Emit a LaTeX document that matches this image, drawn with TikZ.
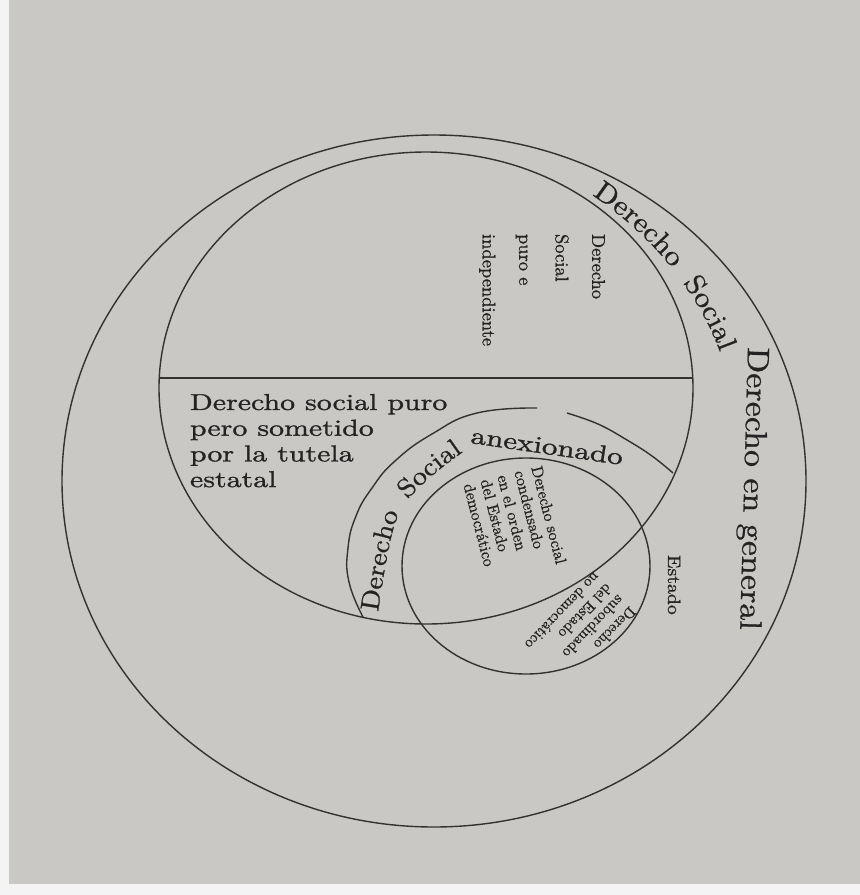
\documentclass[tikz,border=0pt]{standalone}
\usepackage{fontspec}
\usetikzlibrary{decorations.text}
\newfontfamily\wf{lmroman10-regular}[Extension=.otf,FakeStretch=1.3,FakeBold=1.2]
\newfontfamily\mf{lmroman10-regular}[Extension=.otf,FakeStretch=1.1,FakeBold=0.8]
\newfontfamily\nf{lmroman10-regular}[Extension=.otf,FakeBold=0.8]
\definecolor{paper}{RGB}{202,200,197}
\definecolor{ink}{RGB}{35,35,35}
\definecolor{lineink}{RGB}{50,50,50}
\tikzset{
  ln/.style={draw=lineink, line width=1.4pt},
  lbl/.style={text=ink, inner sep=0pt, outer sep=0pt},
}
\begin{document}
\begin{tikzpicture}[x=1pt,y=-1pt]
\fill[paper] (0,0) rectangle (860,895);
\fill[white!80!paper] (0,0) rectangle (9,895);
\fill[white!80!paper] (0,884) rectangle (860,895);
\useasboundingbox (0,0) rectangle (860,895);

% Derecho en general
\draw[ln] (434,481) ellipse [x radius=372, y radius=346];
% Derecho Social
\draw[ln] (426,388) ellipse [x radius=267, y radius=236];
\coordinate (hl) at (159.2,378);
\coordinate (hr) at (692.8,378);
\draw[ln] (hl) -- (hr);
% Estado
\draw[ln] (526,566) ellipse [x radius=124, y radius=108];
% Derecho Social anexionado
\draw[ln] plot[smooth, tension=0.8] coordinates {(363,617) (349,582) (348,548) (356,516) (372,488) (395,461) (432,434) (477,413) (537,408)};
\draw[ln] plot[smooth, tension=0.7] coordinates {(567,413) (598,424) (627,440) (652,456) (673,473)};

% labels
\node[lbl, rotate=-91.6, anchor=base west, font=\mf\fontsize{31}{31}\selectfont] (deg) at (748,347) {Derecho en general};
\path[decorate, decoration={text along path, text color=ink,
  text={|\mf\fontsize{28}{28}\selectfont|Derecho Social},
  text align={fit to path stretching spaces}}]
  (592,195) .. controls (652,235) and (698,292) .. (720,352);
\node[lbl, rotate=-90, anchor=north west, align=left, font=\nf\fontsize{18.5}{36.5}\selectfont] (dspi) at (605,234) {Derecho\\Social\\puro e\\independiente};
\node[lbl, anchor=north west, align=left, font=\wf\fontsize{23}{25.7}\selectfont] (dsp) at (190,394) {Derecho social puro\\pero sometido\\por la tutela\\estatal};
\node[lbl, rotate=-8.2, anchor=base west, font=\wf\fontsize{24}{24}\selectfont] (anex) at (470,443) {anexionado};
\path[decorate, decoration={text along path, text color=ink,
  text={|\mf\fontsize{26}{26}\selectfont|Derecho Social},
  text align={fit to path stretching spaces}}]
  (378,612) .. controls (386,560) and (392,520) .. (405,502)
  .. controls (420,485) and (440,468) .. (463,452);
\node[lbl, rotate=-75.6, anchor=north west, align=left, font=\nf\fontsize{16}{17.5}\selectfont] (cond) at (542,465) {Derecho social\\condensado\\en el orden\\del Estado\\democrático};
\node[lbl, rotate=-134, anchor=north west, align=left, font=\nf\fontsize{15}{16.5}\selectfont] (sub) at (637,613) {Derecho\\subordinado\\del Estado\\no democrático};
\node[lbl, rotate=-90, anchor=base west, font=\mf\fontsize{18}{18}\selectfont] (estado) at (668,555) {Estado};
\end{tikzpicture}
\end{document}
